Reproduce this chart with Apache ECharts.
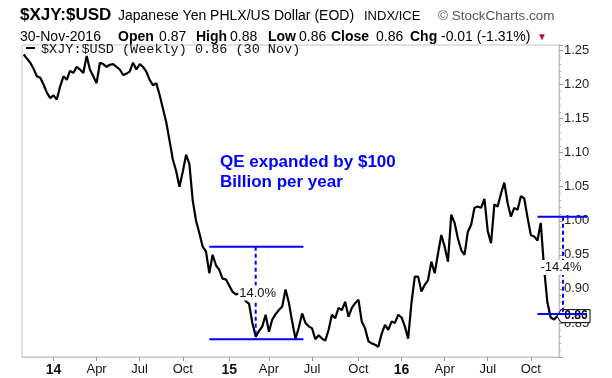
<!DOCTYPE html>
<html>
<head>
<meta charset="utf-8">
<script src="https://cdn.jsdelivr.net/npm/echarts@6/dist/echarts.min.js"></script>
<style>
  html, body { margin: 0; padding: 0; background: #fff; }
  #main { width: 612px; height: 378px; }
</style>
</head>
<body>
<div id="main"></div>
<script>
// weekly closes (first week = 30 Oct 2013, last = 30 Nov 2016)
const lastDate = '2016-11-30'
const weeklyClose = [
  1.244, 1.238, 1.232, 1.223, 1.212, 1.210, 1.200, 1.188, 1.180, 1.184,
  1.178, 1.197, 1.212, 1.207, 1.220, 1.217, 1.226, 1.222, 1.217, 1.242,
  1.222, 1.212, 1.202, 1.232, 1.230, 1.226, 1.229, 1.230, 1.226, 1.222,
  1.214, 1.216, 1.219, 1.232, 1.222, 1.230, 1.226, 1.219, 1.207, 1.199,
  1.202, 1.185, 1.165, 1.145, 1.118, 1.090, 1.073, 1.050, 1.072, 1.097,
  1.083, 1.030, 1.000, 0.982, 0.962, 0.955, 0.923, 0.950, 0.935, 0.928,
  0.915, 0.914, 0.905, 0.896, 0.892, 0.893, 0.890, 0.882, 0.878, 0.850,
  0.830, 0.838, 0.845, 0.862, 0.837, 0.855, 0.863, 0.869, 0.874, 0.899,
  0.880, 0.852, 0.827, 0.843, 0.864, 0.850, 0.845, 0.842, 0.826, 0.832,
  0.827, 0.824, 0.840, 0.862, 0.857, 0.872, 0.869, 0.881, 0.859, 0.872,
  0.879, 0.884, 0.852, 0.842, 0.823, 0.820, 0.818, 0.815, 0.834, 0.847,
  0.840, 0.852, 0.850, 0.862, 0.858, 0.845, 0.827, 0.880, 0.918, 0.918,
  0.896, 0.906, 0.913, 0.940, 0.923, 0.952, 0.979, 0.962, 0.940, 1.009,
  0.997, 0.974, 0.957, 0.950, 0.984, 0.994, 1.019, 1.021, 1.019, 1.032,
  0.985, 0.967, 1.024, 1.021, 1.040, 1.056, 1.026, 1.006, 1.019, 1.016,
  1.036, 1.033, 1.005, 0.979, 0.977, 0.971, 0.997, 0.930, 0.880, 0.858,
  0.855, 0.860
]
const monthNames = ['Jan', 'Feb', 'Mar', 'Apr', 'May', 'Jun', 'Jul', 'Aug', 'Sep', 'Oct', 'Nov', 'Dec']

// annotations: [week index from, week index to, vertical at], levels [top, bottom]
const qeWeeks = [56, 85, 70]
const qeLevels = [0.962, 0.826]
const qeLabel = '14.0%'
const dropWeek = 155
const dropLevels = [1.006, 0.863]
const dropLabel = '-14.4%'
const closeValue = 0.86

const headerRow = [
  { text: 'Open', bold: true, x: 118 }, { text: '0.87', x: 159 },
  { text: 'High', bold: true, x: 196 }, { text: '0.88', x: 230 },
  { text: 'Low', bold: true, x: 268 }, { text: '0.86', x: 299 },
  { text: 'Close', bold: true, x: 331 }, { text: '0.86', x: 376 },
  { text: 'Chg', bold: true, x: 410 }, { text: '-0.01 (-1.31%)', x: 441 }
]

// weekly category dates, counted back from the last bar
const dates = []
const end = new Date(lastDate + 'T00:00:00Z')
for (let i = weeklyClose.length - 1; i >= 0; i--) {
  const d = new Date(end.getTime() - i * 7 * 86400000)
  dates.push(d.toISOString().slice(0, 10))
}
const monthOf = i => +dates[i].slice(5, 7) - 1
const isQuarterStart = i => i > 0 && monthOf(i) !== monthOf(i - 1) && monthOf(i) % 3 === 0

const font = 'Liberation Sans'
const blue = '#0000ff'

const chart = echarts.init(document.getElementById('main'))
chart.setOption({
  animation: false,
  grid: {
    left: 22, right: 53, top: 45, bottom: 21,
    show: true, borderColor: '#c4c4c4', borderWidth: 1
  },
  xAxis: {
    type: 'category',
    data: dates,
    boundaryGap: true,
    axisLine: { show: true, lineStyle: { color: '#c4c4c4' } },
    axisTick: {
      show: true, alignWithLabel: true, length: 4,
      interval: i => isQuarterStart(i),
      lineStyle: { color: '#999' }
    },
    axisLabel: {
      interval: i => isQuarterStart(i),
      margin: 6,
      fontFamily: font,
      fontSize: 13,
      color: '#111',
      formatter: (v) => {
        const m = +v.slice(5, 7) - 1
        return m === 0 ? '{y|' + v.slice(2, 4) + '}' : monthNames[m]
      },
      rich: { y: { fontFamily: font, fontSize: 14, fontWeight: 'bold', color: '#111' } }
    },
    splitLine: { show: false }
  },
  yAxis: {
    type: 'value',
    position: 'right',
    min: 0.80,
    max: 1.258,
    interval: 0.05,
    axisLine: { show: true, lineStyle: { color: '#c4c4c4' } },
    axisTick: { show: true, length: 4, lineStyle: { color: '#999' } },
    minorTick: { show: true, splitNumber: 5, length: 2, lineStyle: { color: '#aaa' } },
    splitLine: { show: false },
    axisLabel: {
      showMinLabel: false, showMaxLabel: false,
      margin: 5, fontFamily: font, fontSize: 13, color: '#222',
      formatter: v => v.toFixed(2)
    }
  },
  series: [{
    type: 'line',
    data: weeklyClose,
    symbol: 'none',
    lineStyle: { color: '#000', width: 2.2 },
    z: 3
  }]
})

const px = (i, v) => chart.convertToPixel({ gridIndex: 0 }, [i, v])
const gridRight = 612 - 53

const hLine = (x1, x2, y) => ({
  type: 'line', z: 20,
  shape: { x1, y1: y, x2, y2: y },
  style: { stroke: blue, lineWidth: 2 }
})
const vDash = (x, y1, y2) => ({
  type: 'line', z: 19,
  shape: { x1: x, y1, x2: x, y2 },
  style: { stroke: blue, lineWidth: 2, lineDash: [4, 3] }
})
const pctText = (text, x, y) => ({
  type: 'text', z: 21, x, y,
  style: {
    text, fill: '#111', font: '13px ' + font,
    align: 'center', verticalAlign: 'middle',
    backgroundColor: '#fff', padding: [1, 1]
  }
})

const graphics = []

// header
graphics.push(
  { type: 'text', x: 20, y: 15, style: { text: '$XJY:$USD', font: 'bold 17px ' + font, fill: '#000', verticalAlign: 'middle' } },
  { type: 'text', x: 118, y: 16, style: { text: 'Japanese Yen PHLX/US Dollar (EOD)', font: '14px ' + font, fill: '#000', verticalAlign: 'middle' } },
  { type: 'text', x: 364, y: 16, style: { text: 'INDX/ICE', font: '13px ' + font, fill: '#000', verticalAlign: 'middle' } },
  { type: 'text', x: 438, y: 16, style: { text: '© StockCharts.com', font: '13.5px ' + font, fill: '#555', verticalAlign: 'middle' } },
  { type: 'text', x: 20, y: 37, style: { text: '30-Nov-2016', font: '14px ' + font, fill: '#000', verticalAlign: 'middle' } },
  { type: 'text', x: 537, y: 37, style: { text: '▼', font: '10px ' + font, fill: '#c0102a', verticalAlign: 'middle' } }
)
headerRow.forEach(h => graphics.push({
  type: 'text', x: h.x, y: 37,
  style: { text: h.text, font: (h.bold ? 'bold 14px ' : '14px ') + font, fill: '#000', verticalAlign: 'middle' }
}))

// legend inside plot
graphics.push(
  { type: 'line', shape: { x1: 26, y1: 48, x2: 35, y2: 48 }, style: { stroke: '#000', lineWidth: 2 } },
  { type: 'text', x: 41, y: 49, style: { text: '$XJY:$USD (Weekly) 0.86 (30 Nov)', font: '13.5px Liberation Mono', fill: '#111', verticalAlign: 'middle' } }
)

// QE note
graphics.push({
  type: 'text', x: 220, y: 152, z: 20,
  style: { text: 'QE expanded by $100\nBillion per year', font: 'bold 17px ' + font, fill: blue, lineHeight: 20 }
})

// left bracket
const qTop = px(qeWeeks[0], qeLevels[0])
const qBot = px(qeWeeks[0], qeLevels[1])
const qEnd = px(qeWeeks[1], qeLevels[0])[0] - 2
const qMid = px(qeWeeks[2], qeLevels[0])[0]
graphics.push(
  hLine(qTop[0], qEnd, qTop[1]),
  hLine(qTop[0], qEnd, qBot[1]),
  vDash(qMid, qTop[1], qBot[1]),
  pctText(qeLabel, qMid + 2, (qTop[1] + qBot[1]) / 2)
)

// right bracket with close tag
const dTop = px(dropWeek, dropLevels[0])
const dBot = px(dropWeek, dropLevels[1])
const tagY = px(weeklyClose.length - 1, closeValue)[1]
graphics.push(
  {
    type: 'polygon', z: 15,
    shape: { points: [[gridRight - 2, tagY], [gridRight + 2, tagY - 6.5], [gridRight + 31, tagY - 6.5], [gridRight + 31, tagY + 6.5], [gridRight + 2, tagY + 6.5]] },
    style: { fill: '#fff', stroke: '#000', lineWidth: 1 }
  },
  { type: 'text', z: 16, x: gridRight + 17, y: tagY, style: { text: '0.86', font: 'bold 12px ' + font, fill: '#000', align: 'center', verticalAlign: 'middle' } },
  hLine(dTop[0], gridRight + 28, dTop[1]),
  hLine(dTop[0], gridRight + 28, dBot[1]),
  vDash(gridRight + 4, dTop[1], dBot[1]),
  pctText(dropLabel, gridRight + 2, (dTop[1] + dBot[1]) / 2 + 2)
)

chart.setOption({ graphic: graphics })
</script>
</body>
</html>
